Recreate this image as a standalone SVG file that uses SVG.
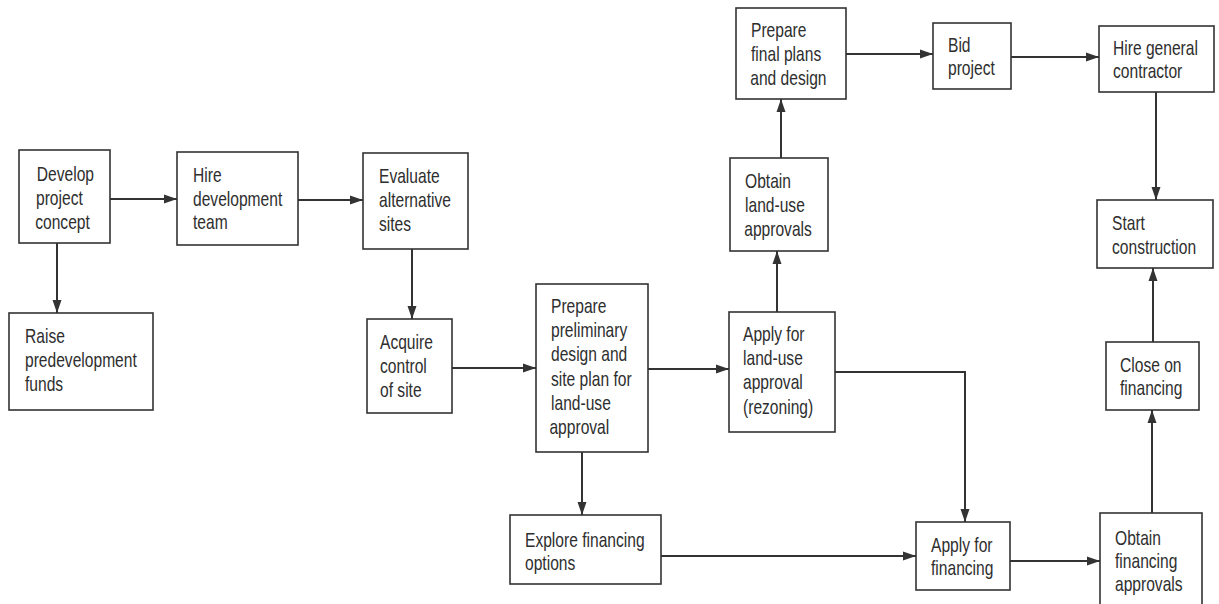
<svg xmlns="http://www.w3.org/2000/svg" width="1219" height="604" viewBox="0 0 1219 604">
<defs>
<style>
.box{fill:#fff;stroke:#333;stroke-width:1.6}
.lbl{font-family:"Liberation Sans",Arial,sans-serif;font-size:20px;fill:#2e2e2e}
.con{fill:none;stroke:#333;stroke-width:2}
</style>
<marker id="ah" markerUnits="userSpaceOnUse" markerWidth="14" markerHeight="10" refX="13" refY="5" orient="auto">
<path d="M0,0.5 L13,5 L0,9.5 z" fill="#333"/>
</marker>
</defs>
<rect width="1219" height="604" fill="#fff"/>
<g id="connectors" class="con" marker-end="url(#ah)">
<path d="M110,199 H177"/>
<path d="M298,200 H363"/>
<path d="M57,243 V313"/>
<path d="M412,249 V319"/>
<path d="M452,368 H536"/>
<path d="M648,369 H729"/>
<path d="M582,452 V515"/>
<path d="M777,312 V251"/>
<path d="M781,158 V99"/>
<path d="M846,54 H933"/>
<path d="M1011,57 H1099"/>
<path d="M1156,92 V200"/>
<path d="M835,372 H965 V522"/>
<path d="M661,556 H916"/>
<path d="M1010,561 H1100"/>
<path d="M1152,513 V410"/>
<path d="M1153,342 V268"/>
</g>
<g id="develop"><rect class="box" x="19" y="150" width="91" height="93"/><text class="lbl" transform="matrix(0.78 0 0 1 36 0)"><tspan x="1" y="181">Develop</tspan><tspan x="0" y="205">project</tspan><tspan x="-1" y="229">concept</tspan></text></g>
<g id="raise"><rect class="box" x="9" y="313" width="144" height="97"/><text class="lbl" transform="matrix(0.78 0 0 1 25 0)"><tspan x="0" y="343">Raise</tspan><tspan x="0" y="367">predevelopment</tspan><tspan x="0" y="391">funds</tspan></text></g>
<g id="hire"><rect class="box" x="177" y="152" width="121" height="93"/><text class="lbl" transform="matrix(0.78 0 0 1 193 0)"><tspan x="0" y="182">Hire</tspan><tspan x="0" y="206">development</tspan><tspan x="0" y="229">team</tspan></text></g>
<g id="evaluate"><rect class="box" x="363" y="153" width="105" height="96"/><text class="lbl" transform="matrix(0.78 0 0 1 379 0)"><tspan x="0" y="183">Evaluate</tspan><tspan x="0" y="207">alternative</tspan><tspan x="0" y="231">sites</tspan></text></g>
<g id="acquire"><rect class="box" x="367" y="319" width="85" height="94"/><text class="lbl" transform="matrix(0.78 0 0 1 380 0)"><tspan x="0" y="349">Acquire</tspan><tspan x="0" y="373">control</tspan><tspan x="0" y="397">of site</tspan></text></g>
<g id="prelim"><rect class="box" x="536" y="284" width="112" height="168"/><text class="lbl" transform="matrix(0.78 0 0 1 551 0)"><tspan x="0" y="313">Prepare</tspan><tspan x="0" y="337">preliminary</tspan><tspan x="0" y="361">design and</tspan><tspan x="0" y="386">site plan for</tspan><tspan x="0" y="410">land-use</tspan><tspan x="-2" y="434">approval</tspan></text></g>
<g id="applyland"><rect class="box" x="729" y="312" width="106" height="120"/><text class="lbl" transform="matrix(0.78 0 0 1 743 0)"><tspan x="0" y="341">Apply for</tspan><tspan x="0" y="365">land-use</tspan><tspan x="0" y="389">approval</tspan><tspan x="0" y="414">(rezoning)</tspan></text></g>
<g id="explore"><rect class="box" x="510" y="515" width="151" height="69"/><text class="lbl" transform="matrix(0.78 0 0 1 525 0)"><tspan x="0" y="547">Explore financing</tspan><tspan x="0" y="570">options</tspan></text></g>
<g id="obtainland"><rect class="box" x="730" y="158" width="98" height="93"/><text class="lbl" transform="matrix(0.78 0 0 1 745 0)"><tspan x="0" y="188">Obtain</tspan><tspan x="0" y="212">land-use</tspan><tspan x="-1" y="236">approvals</tspan></text></g>
<g id="finalplans"><rect class="box" x="736" y="8" width="110" height="91"/><text class="lbl" transform="matrix(0.78 0 0 1 751 0)"><tspan x="0" y="37">Prepare</tspan><tspan x="0" y="61">final plans</tspan><tspan x="-1" y="85">and design</tspan></text></g>
<g id="bid"><rect class="box" x="933" y="23" width="78" height="66"/><text class="lbl" transform="matrix(0.78 0 0 1 948 0)"><tspan x="0" y="52">Bid</tspan><tspan x="0" y="75">project</tspan></text></g>
<g id="hiregc"><rect class="box" x="1099" y="26" width="115" height="66"/><text class="lbl" transform="matrix(0.78 0 0 1 1113 0)"><tspan x="0" y="55">Hire general</tspan><tspan x="0" y="78">contractor</tspan></text></g>
<g id="start"><rect class="box" x="1097" y="200" width="116" height="68"/><text class="lbl" transform="matrix(0.78 0 0 1 1112 0)"><tspan x="0" y="230">Start</tspan><tspan x="0" y="254">construction</tspan></text></g>
<g id="close"><rect class="box" x="1106" y="342" width="93" height="68"/><text class="lbl" transform="matrix(0.78 0 0 1 1120 0)"><tspan x="0" y="372">Close on</tspan><tspan x="0" y="395">financing</tspan></text></g>
<g id="applyfin"><rect class="box" x="916" y="522" width="94" height="68"/><text class="lbl" transform="matrix(0.78 0 0 1 931 0)"><tspan x="0" y="552">Apply for</tspan><tspan x="0" y="575">financing</tspan></text></g>
<g id="obtainfin"><rect class="box" x="1100" y="513" width="102" height="107"/><text class="lbl" transform="matrix(0.78 0 0 1 1115 0)"><tspan x="0" y="545">Obtain</tspan><tspan x="0" y="568">financing</tspan><tspan x="0" y="591">approvals</tspan></text></g>
</svg>
